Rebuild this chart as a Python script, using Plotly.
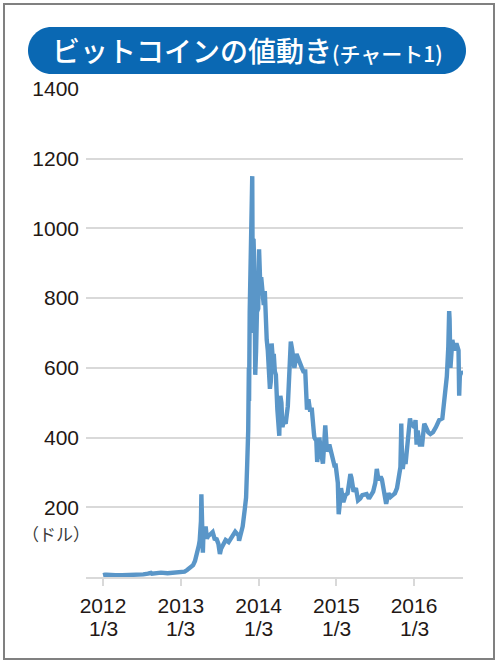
import plotly.graph_objects as go

# ---- data (approximate closes, USD) ----
dates = [
    "2012-01-03","2012-01-08","2012-01-12","2012-01-20","2012-01-31","2012-02-15","2012-03-01","2012-04-01",
    "2012-05-01","2012-06-01","2012-06-20","2012-07-10","2012-08-01","2012-08-15","2012-08-20","2012-09-01",
    "2012-10-01","2012-11-01","2012-12-01","2013-01-03","2013-01-20","2013-02-01","2013-02-15","2013-03-01",
    "2013-03-10","2013-03-20","2013-03-28","2013-04-01","2013-04-04","2013-04-07","2013-04-09","2013-04-10",
    "2013-04-12","2013-04-14","2013-04-16","2013-04-18","2013-04-21","2013-04-25","2013-04-29","2013-05-05",
    "2013-05-10","2013-05-20","2013-06-01","2013-06-10","2013-06-20","2013-06-28","2013-07-05","2013-07-10",
    "2013-07-20","2013-08-01","2013-08-15","2013-08-25","2013-09-05","2013-09-15","2013-09-25","2013-10-01",
    "2013-10-03","2013-10-10","2013-10-20","2013-10-30","2013-11-05","2013-11-10","2013-11-15","2013-11-18",
    "2013-11-19","2013-11-22","2013-11-27","2013-11-30","2013-12-04","2013-12-07","2013-12-10","2013-12-15",
    "2013-12-18","2013-12-22","2013-12-26","2014-01-01","2014-01-05","2014-01-10","2014-01-15","2014-01-20",
    "2014-01-27","2014-02-01","2014-02-06","2014-02-10","2014-02-15","2014-02-20","2014-02-25","2014-03-01",
    "2014-03-05","2014-03-10","2014-03-15","2014-03-20","2014-03-25","2014-04-01","2014-04-05","2014-04-10",
    "2014-04-11","2014-04-15","2014-04-20","2014-04-25","2014-05-01","2014-05-10","2014-05-20","2014-05-25",
    "2014-06-01","2014-06-03","2014-06-10","2014-06-15","2014-06-20","2014-06-30","2014-07-05","2014-07-15",
    "2014-07-25","2014-08-01","2014-08-10","2014-08-18","2014-08-25","2014-09-01","2014-09-10","2014-09-20",
    "2014-09-22","2014-10-01","2014-10-05","2014-10-10","2014-10-15","2014-10-25","2014-11-01","2014-11-12",
    "2014-11-20","2014-12-01","2014-12-15","2014-12-25","2014-12-31","2015-01-05","2015-01-10","2015-01-14",
    "2015-01-15","2015-01-20","2015-01-25","2015-01-31","2015-02-05","2015-02-15","2015-02-25","2015-03-10",
    "2015-03-15","2015-03-25","2015-04-05","2015-04-15","2015-04-25","2015-05-05","2015-05-15","2015-05-25",
    "2015-06-05","2015-06-15","2015-06-25","2015-07-05","2015-07-12","2015-07-20","2015-07-30","2015-08-05",
    "2015-08-18","2015-08-25","2015-09-05","2015-09-15","2015-09-25","2015-10-05","2015-10-15","2015-10-25",
    "2015-10-31","2015-11-03","2015-11-04","2015-11-06","2015-11-11","2015-11-15","2015-11-25","2015-12-01",
    "2015-12-05","2015-12-15","2015-12-20","2015-12-31","2016-01-05","2016-01-10","2016-01-15","2016-01-20",
    "2016-01-30","2016-02-10","2016-02-20","2016-02-28","2016-03-10","2016-03-20","2016-04-01","2016-04-15",
    "2016-04-30","2016-05-15","2016-05-28","2016-06-05","2016-06-12","2016-06-16","2016-06-18","2016-06-22",
    "2016-06-25","2016-07-01","2016-07-10","2016-07-20","2016-07-30","2016-08-02","2016-08-05","2016-08-10",
    "2016-08-18",
]
prices = [
    5.0, 6.9, 6.3, 6.4, 5.5, 4.4, 4.9, 4.9,
    5.0, 5.3, 6.5, 7.5, 9.5, 12.0, 9.5, 10.2,
    12.4, 10.6, 12.6, 13.4, 15.5, 20, 27, 34,
    46, 65, 90, 104, 130, 160, 237, 165,
    100, 90, 70, 110, 125, 140, 145, 110,
    117, 122, 129, 110, 108, 95, 66, 80,
    92, 106, 100, 110, 125, 130, 123, 120,
    104, 125, 145, 195, 228, 320, 420, 600,
    505, 760, 1000, 1100, 1150, 700, 970, 850,
    580, 650, 760, 770, 940, 850, 860, 830,
    780, 820, 700, 680, 650, 600, 540, 560,
    670, 630, 640, 590, 580, 480, 450, 405,
    440, 520, 500, 430, 450, 440, 490, 570,
    630, 675, 650, 600, 600, 640, 630, 620,
    600, 590, 590, 480, 510, 480, 480, 410,
    400, 390, 330, 360, 400, 350, 325, 435,
    360, 380, 350, 320, 320, 275, 270, 180,
    210, 215, 255, 220, 215, 235, 240, 295,
    285, 245, 255, 220, 225, 235, 238, 238,
    225, 235, 245, 270, 310, 278, 288, 280,
    225, 210, 240, 230, 235, 240, 255, 285,
    315, 400, 440, 380, 310, 330, 330, 360,
    390, 455, 440, 430, 430, 450, 380, 420,
    380, 380, 440, 430, 415, 410, 415, 430,
    450, 455, 520, 575, 660, 763, 740, 600,
    660, 680, 650, 670, 650, 520, 575, 590,
    580,
]
tick_dates = ["2012-01-03", "2013-01-03", "2014-01-03", "2015-01-03", "2016-01-03"]
tick_years = ["2012", "2013", "2014", "2015", "2016"]
tick_days = ["1/3", "1/3", "1/3", "1/3", "1/3"]
y_ticks = [0, 200, 400, 600, 800, 1000, 1200, 1400]
y_tick_labels = ["", "200", "400", "600", "800", "1000", "1200", "1400"]
title_main = "ビットコインの値動き"
title_sub = "(チャート1)"
unit_label = "（ドル）"

# ---- layout geometry (pixels) ----
W, H = 500, 665
L, R, T, B = 86, 463, 89, 577

def px(x):
    return (x - L) / (R - L)

def py(y):
    return (B - y) / (B - T)

def pill_path(x0, y0, x1, y1):
    r = (y1 - y0) / 2
    k = 0.5523 * r
    pts = [
        f"M {px(x0 + r)} {py(y0)}",
        f"L {px(x1 - r)} {py(y0)}",
        f"C {px(x1 - r + k)} {py(y0)} {px(x1)} {py(y0 + r - k)} {px(x1)} {py(y0 + r)}",
        f"C {px(x1)} {py(y0 + r + k)} {px(x1 - r + k)} {py(y1)} {px(x1 - r)} {py(y1)}",
        f"L {px(x0 + r)} {py(y1)}",
        f"C {px(x0 + r - k)} {py(y1)} {px(x0)} {py(y1 - r + k)} {px(x0)} {py(y1 - r)}",
        f"C {px(x0)} {py(y1 - r - k)} {px(x0 + r - k)} {py(y0)} {px(x0 + r)} {py(y0)}",
        "Z",
    ]
    return " ".join(pts)

fig = go.Figure()
fig.add_trace(go.Scatter(
    x=dates, y=prices, mode="lines",
    line=dict(color="#5a96c8", width=4.4),
    hoverinfo="skip",
))

txt_color = "#231815"
num_font = dict(family="Liberation Sans, Arial, sans-serif", size=21, color=txt_color)

annotations = [
    dict(xref="paper", yref="paper", x=px(247), y=py(50), xanchor="center", yanchor="middle",
         showarrow=False,
         text=f"{title_main}<span style='font-size:21px'>{title_sub}</span>",
         font=dict(family="Noto Sans CJK JP Medium, Noto Sans CJK JP", size=28, color="white")),
    dict(xref="paper", yref="paper", x=px(92), y=py(533), xanchor="right", yanchor="middle",
         showarrow=False, text=unit_label,
         font=dict(family="Noto Sans CJK JP", size=17, color="#3a3a3a")),
]
for d, lab in zip(tick_dates, tick_days):
    annotations.append(dict(xref="x", yref="paper", x=d, y=py(628), xanchor="center",
                            yanchor="middle", showarrow=False, text=lab, font=num_font))

fig.update_layout(
    width=W, height=H,
    margin=dict(l=L, r=W - R, t=T, b=H - B, autoexpand=False),
    paper_bgcolor="white", plot_bgcolor="white",
    showlegend=False,
    xaxis=dict(
        type="date",
        range=["2011-10-15", "2016-08-20"],
        tickvals=tick_dates, ticktext=tick_years,
        showgrid=False, zeroline=False,
        showline=True, linecolor="#d9d9d9", linewidth=2,
        ticks="outside", ticklen=7, tickwidth=2, tickcolor="#d9d9d9",
        tickfont=num_font, ticklabelstandoff=2, automargin=False,
    ),
    yaxis=dict(
        range=[0, 1400],
        tickvals=y_ticks, ticktext=y_tick_labels,
        showgrid=True, gridcolor="#d9d9d9", gridwidth=2,
        zeroline=False, showline=False, ticks="",
        tickfont=num_font, ticklabelstandoff=6, automargin=False,
    ),
    shapes=[
        dict(type="rect", xref="paper", yref="paper",
             x0=px(4), x1=px(494), y0=py(659), y1=py(4),
             line=dict(color="#808080", width=2), fillcolor="rgba(0,0,0,0)", layer="above"),
        dict(type="path", xref="paper", yref="paper", path=pill_path(28, 27, 466, 74),
             fillcolor="#0a68b3", line=dict(width=0), layer="above"),
    ],
    annotations=annotations,
)

fig.write_html(
    "out.html",
    config={"displayModeBar": False},
    post_script="document.body.style.margin='0';document.body.style.overflow='hidden';",
)
